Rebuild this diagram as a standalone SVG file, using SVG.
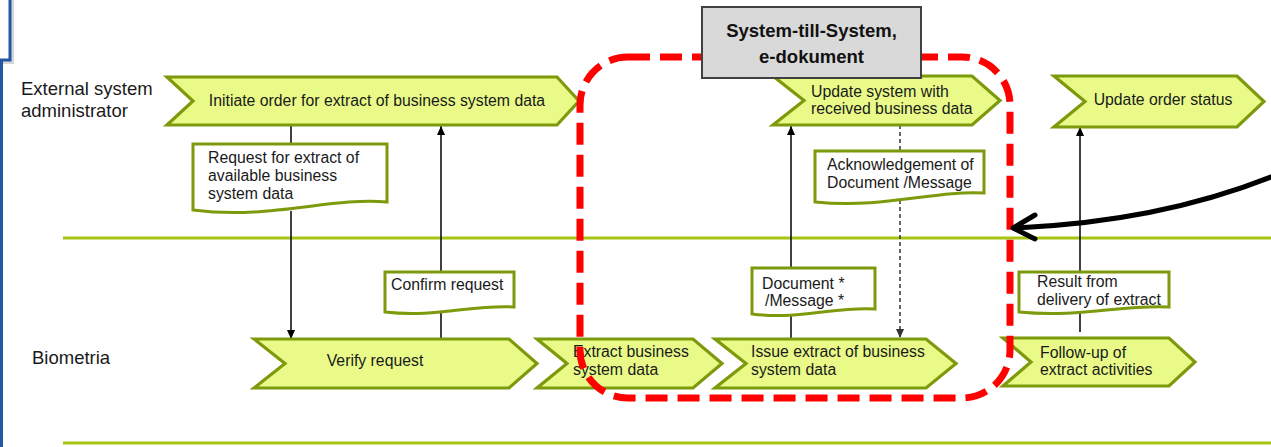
<svg xmlns="http://www.w3.org/2000/svg" width="1271" height="447" viewBox="0 0 1271 447">
<defs>
<style>
.lane{stroke:#a8c60f;stroke-width:3;fill:none}
.chev{fill:#e9fa88;stroke:#7d9a0c;stroke-width:3.2;stroke-linejoin:miter}
.doc{fill:#ffffff;stroke:#7d9a0c;stroke-width:3}
.t{font-family:"Liberation Sans",Arial,sans-serif;font-size:15.8px;fill:#1a1a1a}
.lbl{font-family:"Liberation Sans",Arial,sans-serif;font-size:18.5px;fill:#1a1a1a}
.bt{font-family:"Liberation Sans",Arial,sans-serif;font-size:18.5px;font-weight:bold;fill:#111}
.ln{stroke:#000;stroke-width:1.5;fill:none}
.dl{stroke:#333;stroke-width:1.5;fill:none;stroke-dasharray:4 3}
</style>
<marker id="ah" viewBox="0 0 10 10" refX="10" refY="5" markerWidth="10" markerHeight="9" markerUnits="userSpaceOnUse" orient="auto">
<path d="M0,0.5 L10,5 L0,9.5 z" fill="#000"/>
</marker>
<marker id="ahd" viewBox="0 0 10 10" refX="10" refY="5" markerWidth="10" markerHeight="9" markerUnits="userSpaceOnUse" orient="auto">
<path d="M0,0.5 L10,5 L0,9.5 z" fill="#333"/>
</marker>
</defs>
<rect width="1271" height="447" fill="#ffffff"/>

<g id="frame">
<rect x="-10" y="-10" width="24" height="74" fill="#bbbbbb" opacity="0.6"/>
<rect x="-10" y="-10" width="20" height="70" fill="#ffffff" stroke="#2456a6" stroke-width="3"/>
<line x1="1.5" y1="60" x2="1.5" y2="447" stroke="#2456a6" stroke-width="3"/>
</g>

<g id="lanes">
<line class="lane" x1="63" y1="238" x2="1271" y2="238"/>
<line class="lane" x1="63" y1="443" x2="1271" y2="443"/>
<text class="lbl" x="21" y="95">External system</text>
<text class="lbl" x="21" y="117">administrator</text>
<text class="lbl" x="32" y="364">Biometria</text>
</g>

<g id="connectors">
<path class="ln" d="M291,125 V144"/>
<path class="ln" d="M291,211 V339" marker-end="url(#ah)"/>
<path class="ln" d="M441,339 V310"/>
<path class="ln" d="M441,272 V126" marker-end="url(#ah)"/>
<path class="ln" d="M791,339 V313"/>
<path class="ln" d="M791,268 V126" marker-end="url(#ah)"/>
<path class="dl" d="M900,125 V151"/>
<path class="dl" d="M900,200 V338" marker-end="url(#ahd)"/>
<path class="ln" d="M1080,332 V311"/>
<path class="ln" d="M1080,272 V127" marker-end="url(#ah)"/>
</g>

<g id="n-initiate">
<path class="chev" d="M167,77 H557 L579,101 L557,125 H167 L193,101 z"/>
<text class="t" x="377" y="106" text-anchor="middle">Initiate order for extract of business system data</text>
</g>
<g id="n-update-system">
<path class="chev" d="M773,76 H972 L1000,100.5 L972,125 H773 L804,100.5 z"/>
<text class="t" x="811" y="97">Update system with</text>
<text class="t" x="811" y="114">received business data</text>
</g>
<g id="n-update-order">
<path class="chev" d="M1054,76 H1237 L1264,101.5 L1237,127 H1054 L1085,101.5 z"/>
<text class="t" x="1163" y="105" text-anchor="middle">Update order status</text>
</g>
<g id="n-verify">
<path class="chev" d="M254,339 H509 L537,363.5 L509,388 H254 L285,363.5 z"/>
<text class="t" x="375" y="366" text-anchor="middle">Verify request</text>
</g>
<g id="n-extract">
<path class="chev" d="M537,339 H693 L722,363.5 L693,388 H537 L567,363.5 z"/>
<text class="t" x="573" y="357">Extract business</text>
<text class="t" x="573" y="375">system data</text>
</g>
<g id="n-issue">
<path class="chev" d="M715,339 H926 L956,363.5 L926,388 H715 L746,363.5 z"/>
<text class="t" x="751" y="357">Issue extract of business</text>
<text class="t" x="751" y="375">system data</text>
</g>
<g id="n-followup">
<path class="chev" d="M1003,338 H1169 L1195,362 L1169,386 H1003 L1031,362 z"/>
<text class="t" x="1040" y="358">Follow-up of</text>
<text class="t" x="1040" y="375">extract activities</text>
</g>

<g id="d-request">
<path class="doc" d="M193,144 H387 V202 C330,197 270,220 193,210 z"/>
<text class="t" x="208" y="163">Request for extract of</text>
<text class="t" x="208" y="181">available business</text>
<text class="t" x="208" y="199">system data</text>
</g>
<g id="d-confirm">
<path class="doc" d="M385,272 H514 V307 C475,304 435,318 385,312 z"/>
<text class="t" x="391" y="290">Confirm request</text>
</g>
<g id="d-ack">
<path class="doc" d="M815,151 H984 V193 C935,190 885,209 815,202 z"/>
<text class="t" x="827" y="170">Acknowledgement of</text>
<text class="t" x="827" y="188">Document /Message</text>
</g>
<g id="d-document">
<path class="doc" d="M752,268 H875 V309 C838,306 800,320 752,314 z"/>
<text class="t" x="762" y="289">Document *</text>
<text class="t" x="765" y="306">/Message *</text>
</g>
<g id="d-result">
<path class="doc" d="M1019,272 H1169 V307 C1125,304 1080,318 1019,312 z"/>
<text class="t" x="1037" y="287">Result from</text>
<text class="t" x="1037" y="305">delivery of extract</text>
</g>

<g id="highlight">
<rect x="580" y="57" width="430" height="341" rx="48" ry="48" fill="none" stroke="#ff0000" stroke-width="7" stroke-dasharray="22 10"/>
</g>

<g id="n-s2s">
<rect x="702" y="7" width="219" height="71" fill="#d9d9d9" stroke="#404040" stroke-width="2"/>
<text class="bt" x="811.5" y="37" text-anchor="middle">System-till-System,</text>
<text class="bt" x="811.5" y="63" text-anchor="middle">e-dokument</text>
</g>

<g id="pointer">
<path d="M1276,175 Q1160,222 1014,228" fill="none" stroke="#000" stroke-width="5" stroke-linecap="round"/>
<path d="M1035,215 L1013,228 L1035,239" fill="none" stroke="#000" stroke-width="5" stroke-linecap="round" stroke-linejoin="round"/>
</g>
</svg>
